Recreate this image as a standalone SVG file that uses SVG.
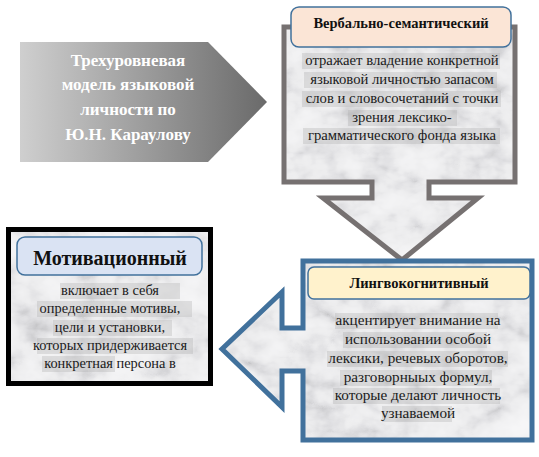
<svg xmlns="http://www.w3.org/2000/svg" width="539" height="457" viewBox="0 0 539 457">
<defs>
<linearGradient id="grayGrad" x1="0" y1="0" x2="1" y2="0">
<stop offset="0" stop-color="#cfcfcf"/>
<stop offset="1" stop-color="#6a6a6a"/>
</linearGradient>
<filter id="marble" x="0" y="0" width="1" height="1" color-interpolation-filters="sRGB">
<feTurbulence type="turbulence" baseFrequency="0.012 0.022" numOctaves="5" seed="11" result="v"/>
<feTurbulence type="fractalNoise" baseFrequency="0.05" numOctaves="3" seed="4" result="f"/>
<feColorMatrix in="v" type="matrix" values="1 0 0 0 0  1 0 0 0 0  1 0 0 0 0  0 0 0 0 1" result="v2"/>
<feColorMatrix in="f" type="matrix" values="0 1 0 0 0  0 1 0 0 0  0 1 0 0 0  0 0 0 0 1" result="f2"/>
<feComposite in="v2" in2="f2" operator="arithmetic" k1="0" k2="0.55" k3="0.45" k4="0" result="g"/>
<feComponentTransfer in="g" result="c">
<feFuncR type="table" tableValues="0.68 0.8 0.88 0.93 0.95 0.96 0.97 0.97"/>
<feFuncG type="table" tableValues="0.68 0.8 0.88 0.93 0.95 0.96 0.97 0.97"/>
<feFuncB type="table" tableValues="0.69 0.81 0.89 0.935 0.955 0.965 0.975 0.975"/>
<feFuncA type="linear" slope="0" intercept="1"/>
</feComponentTransfer>
<feComposite in="c" in2="SourceAlpha" operator="in"/>
</filter>
<style>
text{font-family:'Liberation Serif','DejaVu Serif',serif}
.t{text-anchor:middle;fill:#1a1a1a}
.h{text-anchor:middle;font-weight:bold;fill:#111}
.w{text-anchor:middle;font-weight:bold;fill:#fff;font-size:17px}
.hdr{stroke:#41719c;stroke-width:1.5}
.hl{fill:#a8a8a8;fill-opacity:0.3}
</style>
</defs>
<rect width="539" height="457" fill="#fff"/>
<g id="title">
<polygon points="20,42 208,42 267,102 208,162 20,162" fill="url(#grayGrad)"/>
<text class="w" x="128" y="66">Трехуровневая</text>
<text class="w" x="128" y="90">модель языковой</text>
<text class="w" x="128" y="115">личности по</text>
<text class="w" x="128" y="140">Ю.Н. Караулову</text>
</g>
<g id="verbal">
<path d="M284,27 H515 V182 H429 V198 H478 L402,260 L323,198 H372 V182 H284 Z" fill="#000" filter="url(#marble)"/>
<path d="M284,27 H515 V182 H429 V198 H478 L402,260 L323,198 H372 V182 H284 Z" fill="none" stroke="#767171" stroke-width="5"/>
<rect class="hdr" x="291" y="7" width="220" height="40" rx="8" fill="#fbe5d6"/>
<text class="h" x="401" y="28" font-size="14.5">Вербально-семантический</text>
<rect class="hl" x="302" y="53" width="198" height="16"/>
<rect class="hl" x="304" y="72" width="193" height="16"/>
<rect class="hl" x="302" y="91" width="199" height="16"/>
<rect class="hl" x="348" y="110" width="109" height="16"/>
<rect class="hl" x="303" y="128" width="197" height="16"/>
<g font-size="14.7">
<text class="t" x="402" y="65">отражает владение конкретной</text>
<text class="t" x="402" y="84">языковой личностью запасом</text>
<text class="t" x="402" y="103">слов и словосочетаний с точки</text>
<text class="t" x="402" y="122">зрения лексико-</text>
<text class="t" x="402" y="140">грамматического фонда языка</text>
</g>
</g>
<g id="lingvo">
<path d="M303,261 H532 V440 H303 V371 H282 V407 L222,349 L282,292 V328 H303 Z" fill="#000" filter="url(#marble)"/>
<path d="M303,261 H532 V440 H303 V371 H282 V407 L222,349 L282,292 V328 H303 Z" fill="none" stroke="#41719c" stroke-width="5"/>
<rect class="hdr" x="308" y="267" width="222" height="32" rx="6" fill="#fff2cc"/>
<text class="h" x="419" y="288" font-size="14.5">Лингвокогнитивный</text>
<rect class="hl" x="335" y="313" width="163" height="16"/>
<rect class="hl" x="343" y="332" width="144" height="16"/>
<rect class="hl" x="327" y="351" width="181" height="16"/>
<rect class="hl" x="340" y="370" width="152" height="16"/>
<rect class="hl" x="333" y="388" width="167" height="16"/>
<rect class="hl" x="382" y="406" width="70" height="16"/>
<g font-size="15.2">
<text class="t" x="418" y="325">акцентирует внимание на</text>
<text class="t" x="418" y="344">использовании особой</text>
<text class="t" x="418" y="363">лексики, речевых оборотов,</text>
<text class="t" x="418" y="382">разговорныых формул,</text>
<text class="t" x="418" y="400">которые делают личность</text>
<text class="t" x="418" y="418">узнаваемой</text>
</g>
</g>
<g id="motiv">
<rect x="8.5" y="229.5" width="202" height="154" fill="#000" filter="url(#marble)"/>
<rect x="8.5" y="229.5" width="202" height="154" fill="none" stroke="#000" stroke-width="5"/>
<rect class="hdr" x="17" y="237" width="185" height="38" rx="8" fill="#dae3f3"/>
<text class="h" x="110" y="265" font-size="20">Мотивационный</text>
<rect class="hl" x="60" y="283" width="120" height="16"/>
<rect class="hl" x="37" y="301" width="155" height="16"/>
<rect class="hl" x="53" y="320" width="119" height="16"/>
<rect class="hl" x="37" y="338" width="156" height="16"/>
<rect class="hl" x="42" y="356" width="73" height="16"/>
<g font-size="14.4">
<text class="t" x="110" y="295">включает в себя</text>
<text class="t" x="110" y="313">определенные мотивы,</text>
<text class="t" x="110" y="332">цели и установки,</text>
<text class="t" x="110" y="350">которых придерживается</text>
<text class="t" x="110" y="368">конкретная персона в</text>
</g>
</g>
<g id="connectors"></g>
</svg>
